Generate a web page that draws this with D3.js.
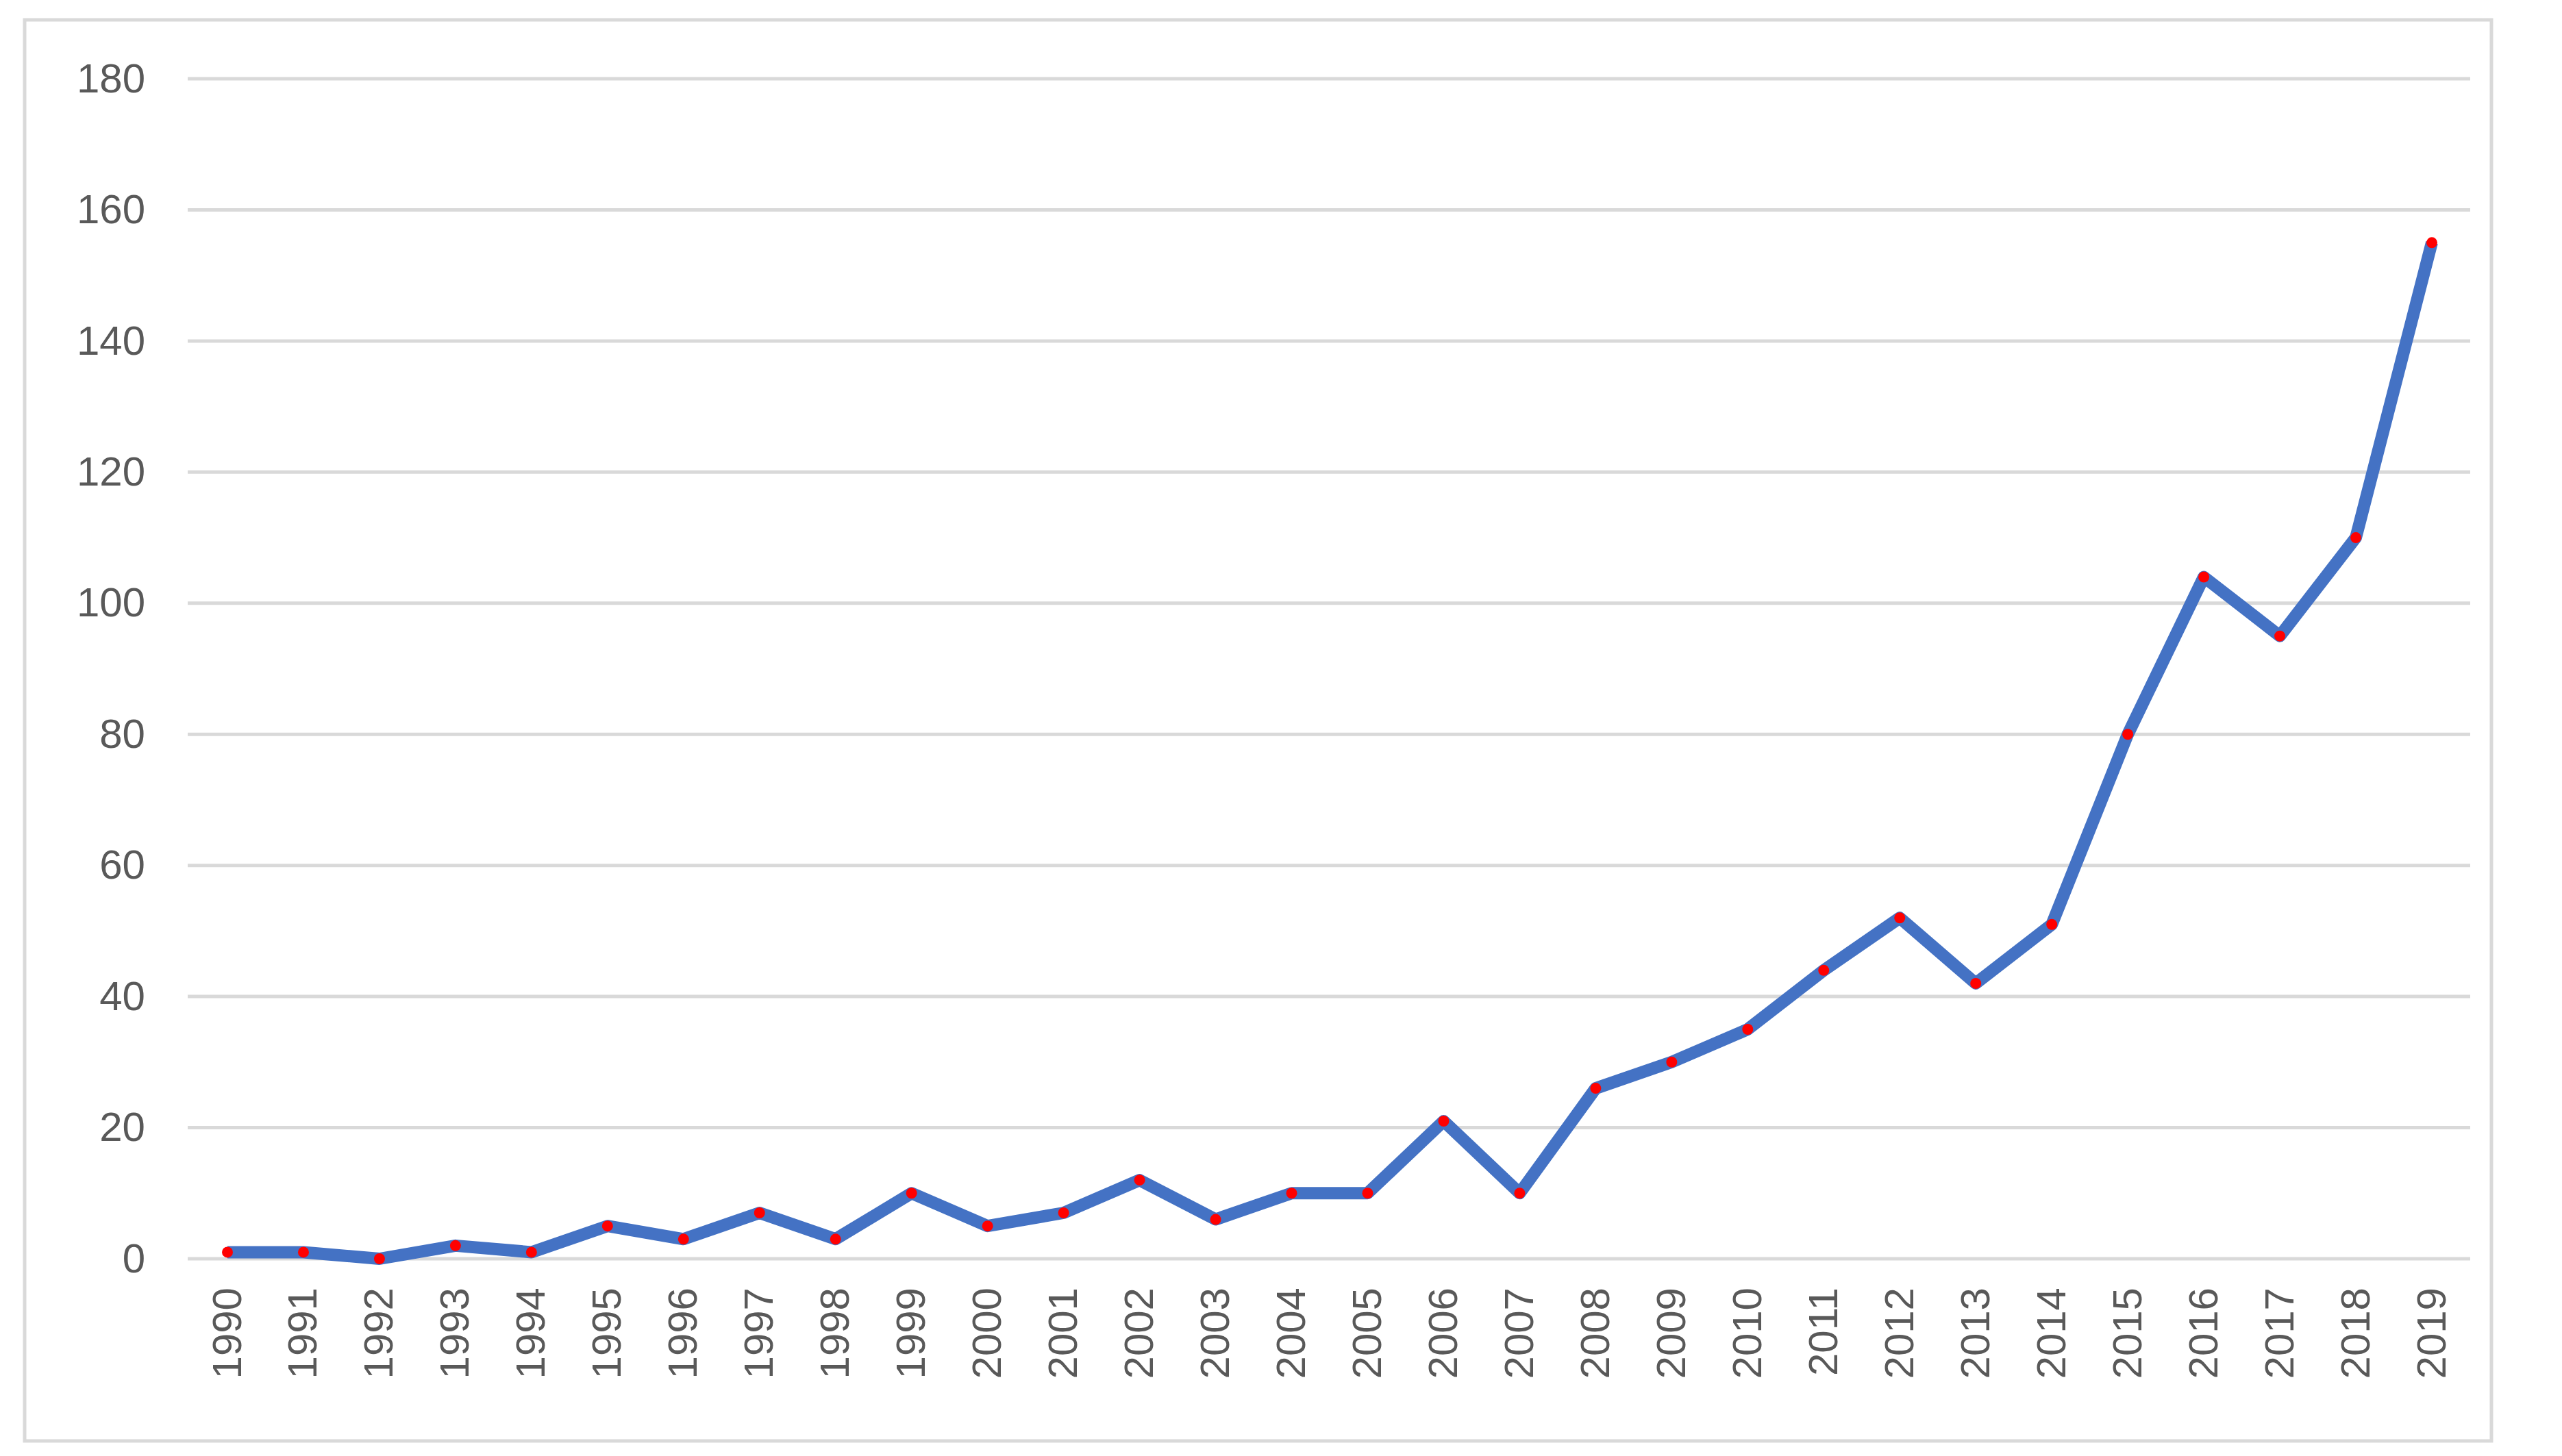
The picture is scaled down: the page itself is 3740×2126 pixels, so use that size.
<!DOCTYPE html>
<html>
<head>
<meta charset="utf-8">
<script src="https://cdn.jsdelivr.net/npm/d3@7"></script>
<style>
  body { margin: 0; background: #fff; }
  text { font-family: "Liberation Sans", "DejaVu Sans", sans-serif; fill: #595959; }
</style>
</head>
<body>
<svg id="chart" width="3740" height="2126"></svg>
<script>
const years = d3.range(1990, 2020).map(String);
const values = [1, 1, 0, 2, 1, 5, 3, 7, 3, 10, 5, 7, 12, 6, 10, 10, 21, 10, 26, 30, 35, 44, 52, 42, 51, 80, 104, 95, 110, 155];
const yTicks = [0, 20, 40, 60, 80, 100, 120, 140, 160, 180];

const svg = d3.select("#chart");

// outer frame
svg.append("rect")
  .attr("x", 36).attr("y", 29).attr("width", 3601).attr("height", 2075)
  .attr("fill", "#fff").attr("stroke", "#d9d9d9").attr("stroke-width", 5);

const x = d3.scalePoint().domain(years).range([332, 3550]);
const y = d3.scaleLinear().domain([0, 180]).range([1838, 115]);

// gridlines
svg.append("g").selectAll("line").data(yTicks).enter().append("line")
  .attr("x1", 274).attr("x2", 3606)
  .attr("y1", d => y(d)).attr("y2", d => y(d))
  .attr("stroke", "#d9d9d9").attr("stroke-width", 5);

// y axis labels
const yAxis = svg.append("g").attr("transform", "translate(274,0)")
  .call(d3.axisLeft(y).tickValues(yTicks).tickSize(0).tickPadding(62));
yAxis.select(".domain").remove();
yAxis.selectAll("text").attr("font-size", 60).style("fill", "#595959");

// x axis labels
const xAxis = svg.append("g").attr("transform", "translate(0,1838)")
  .call(d3.axisBottom(x).tickSize(0).tickPadding(0));
xAxis.select(".domain").remove();
xAxis.selectAll("text")
  .attr("font-size", 60)
  .style("fill", "#595959")
  .attr("text-anchor", "end")
  .attr("transform", "translate(-2,42) rotate(-90)")
  .attr("x", 0).attr("y", 0).attr("dy", "0.35em");

// line
svg.append("path")
  .datum(values)
  .attr("fill", "none")
  .attr("stroke", "#4472c4")
  .attr("stroke-width", 18)
  .attr("stroke-linejoin", "round")
  .attr("d", d3.line().x((d, i) => x(years[i])).y(d => y(d)));

// markers
svg.append("g").selectAll("circle").data(values).enter().append("circle")
  .attr("cx", (d, i) => x(years[i]))
  .attr("cy", d => y(d))
  .attr("r", 8)
  .attr("fill", "#ff0000");
</script>
</body>
</html>
